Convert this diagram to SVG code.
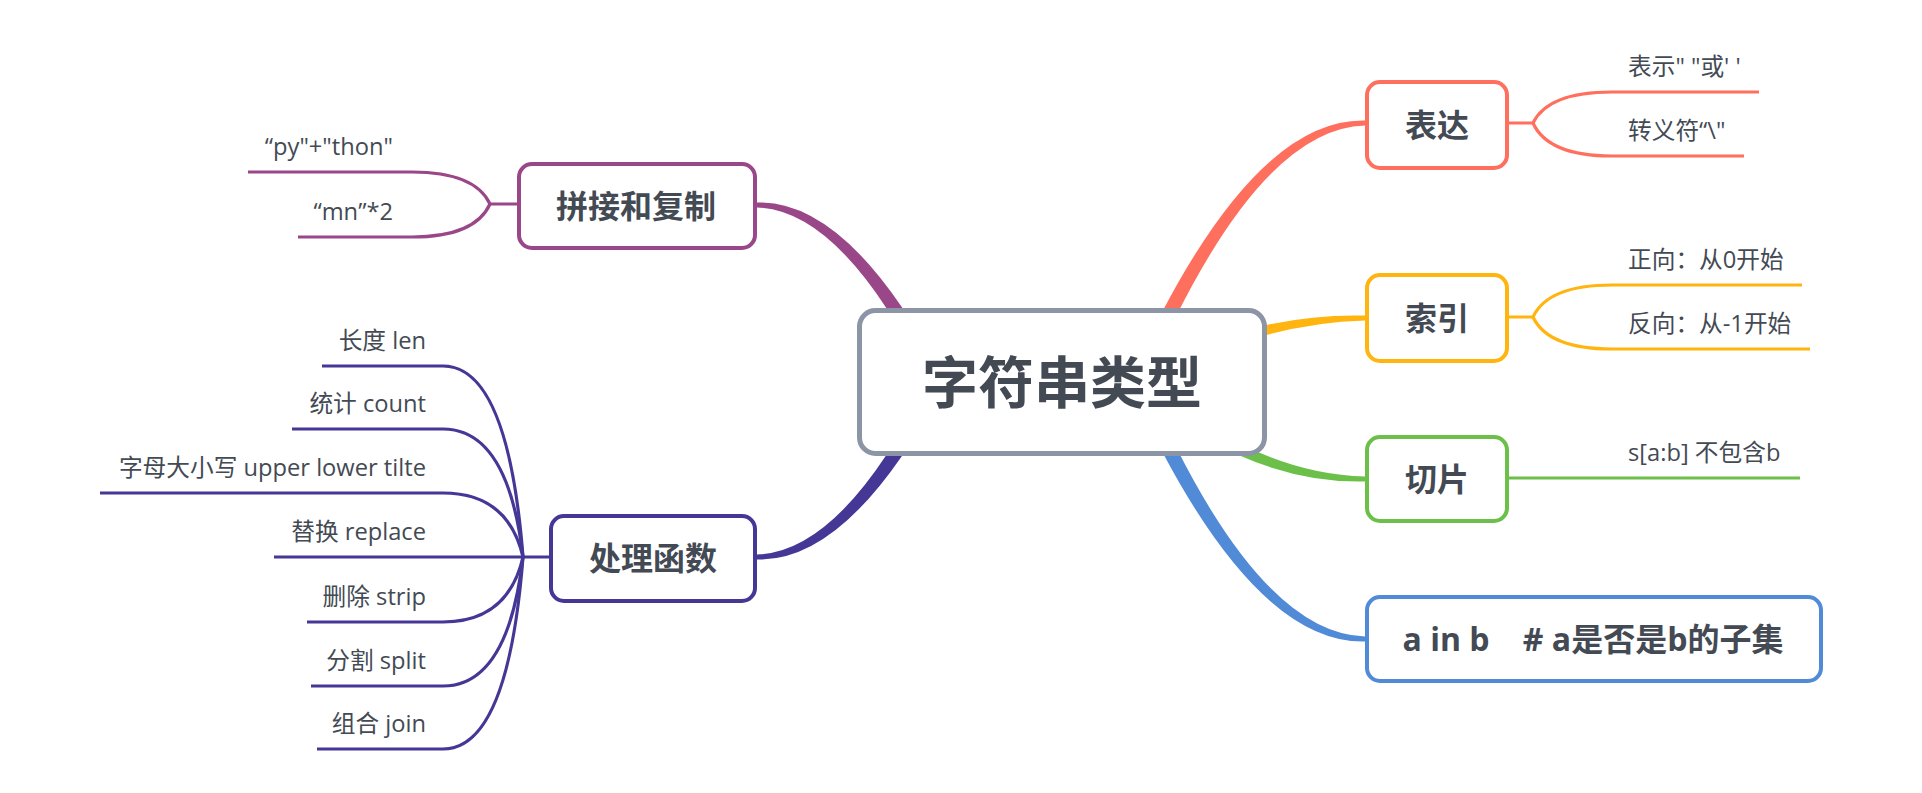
<svg xmlns="http://www.w3.org/2000/svg" width="1922" height="793" viewBox="0 0 1922 793">
<style>
.t{font-family:"Open Sans","Noto Sans CJK SC",sans-serif;fill:#434a54}
.sub{font-size:23.7px}
.main{font-size:32px;font-weight:bold;text-anchor:middle}
.root{font-size:56px;font-weight:bold;text-anchor:middle}
.box{fill:#ffffff;stroke-width:4}
.ln{fill:none;stroke-width:3.2}
.r{stroke:#ff6f5e}.y{stroke:#ffb40f}.g{stroke:#6cc04a}.b{stroke:#518ad6}.p{stroke:#9a4789}.i{stroke:#453796}
</style>
<rect width="1922" height="793" fill="#ffffff"/>
<g id="connectors">
  <path fill="#ff6f5e" d="M1144.3,385.2 Q1254.4,128.2 1365,125.5 L1365,120.5 Q1247.6,117.8 1129.7,378.8 Z"/>
  <path fill="#ffb40f" d="M1140.9,389 Q1252.4,323.3 1365,320.5 L1365,315.5 Q1249.6,312.7 1133.1,375 Z"/>
  <path fill="#6cc04a" d="M1131.8,388.1 Q1249.1,484.2 1365,481.5 L1365,476.5 Q1252.9,473.8 1142.2,375.9 Z"/>
  <path fill="#518ad6" d="M1129.7,385.2 Q1247.6,644.2 1365,641.5 L1365,636.5 Q1254.4,633.8 1144.3,378.8 Z"/>
  <path fill="#9a4789" d="M944.1,378.4 Q850.2,199.7 757,202.5 L757,207.5 Q843.8,210.3 929.9,385.6 Z"/>
  <path fill="#453796" d="M929.9,378.3 Q843.8,551.8 757,554.5 L757,559.5 Q850.2,562.2 944.1,385.7 Z"/>
  <path class="ln r" d="M1509,123 H1533 Q1548,92 1612,92 H1759"/>
  <path class="ln r" d="M1533,123 Q1548,156 1612,156 H1744"/>
  <path class="ln y" d="M1509,317 H1533 Q1548,285 1612,285 H1802"/>
  <path class="ln y" d="M1533,317 Q1548,349 1612,349 H1810"/>
  <path class="ln g" d="M1509,478 H1800"/>
  <path class="ln p" d="M517,204 H490 Q475,172 412,172 H248"/>
  <path class="ln p" d="M490,204 Q475,237 412,237 H298"/>
  <path class="ln i" d="M549,557 H523 Q508,366 443,366 H322"/>
  <path class="ln i" d="M523,557 Q508,429 443,429 H292"/>
  <path class="ln i" d="M523,557 Q508,493 443,493 H100"/>
  <path class="ln i" d="M523,557 H274"/>
  <path class="ln i" d="M523,557 Q508,622 443,622 H307"/>
  <path class="ln i" d="M523,557 Q508,686 443,686 H311"/>
  <path class="ln i" d="M523,557 Q508,749 443,749 H317"/>
</g>
<g id="root">
  <rect x="859.5" y="310.5" width="405" height="143" rx="16" fill="#ffffff" stroke="#8b95a6" stroke-width="5"/>
  <text class="t root" x="1062" y="403">字符串类型</text>
</g>
<g id="node-biaoda">
  <rect class="box r" x="1367" y="82" width="140" height="86" rx="13"/>
  <text class="t main" x="1437" y="137">表达</text>
</g>
<g id="leaf-biaoshi"><text class="t sub" x="1628" y="75">表示" "或' '</text></g>
<g id="leaf-zhuanyi"><text class="t sub" x="1628" y="139">转义符“\"</text></g>
<g id="node-suoyin">
  <rect class="box y" x="1367" y="275" width="140" height="86" rx="13"/>
  <text class="t main" x="1437" y="330">索引</text>
</g>
<g id="leaf-zhengxiang"><text class="t sub" x="1628" y="268">正向：从0开始</text></g>
<g id="leaf-fanxiang"><text class="t sub" x="1628" y="332">反向：从-1开始</text></g>
<g id="node-qiepian">
  <rect class="box g" x="1367" y="437" width="140" height="84" rx="13"/>
  <text class="t main" x="1437" y="491">切片</text>
</g>
<g id="leaf-slice"><text class="t sub" x="1628" y="461">s[a:b] 不包含b</text></g>
<g id="node-ainb">
  <rect class="box b" x="1367" y="597" width="454" height="84" rx="13"/>
  <text class="t main" x="1593" y="651" xml:space="preserve">a in b    # a是否是b的子集</text>
</g>
<g id="node-pinjie">
  <rect class="box p" x="519" y="164" width="236" height="84" rx="13"/>
  <text class="t main" x="636" y="218">拼接和复制</text>
</g>
<g id="leaf-python"><text class="t sub" x="393" y="155" text-anchor="end">“py"+"thon"</text></g>
<g id="leaf-mn"><text class="t sub" x="393" y="220" text-anchor="end">“mn”*2</text></g>
<g id="node-chuli">
  <rect class="box i" x="551" y="516" width="204" height="85" rx="13"/>
  <text class="t main" x="653" y="570">处理函数</text>
</g>
<g id="leaf-len"><text class="t sub" x="426" y="349" text-anchor="end">长度 len</text></g>
<g id="leaf-count"><text class="t sub" x="426" y="412" text-anchor="end">统计 count</text></g>
<g id="leaf-case"><text class="t sub" x="426" y="476" text-anchor="end">字母大小写 upper lower tilte</text></g>
<g id="leaf-replace"><text class="t sub" x="426" y="540" text-anchor="end">替换 replace</text></g>
<g id="leaf-strip"><text class="t sub" x="426" y="605" text-anchor="end">删除 strip</text></g>
<g id="leaf-split"><text class="t sub" x="426" y="669" text-anchor="end">分割 split</text></g>
<g id="leaf-join"><text class="t sub" x="426" y="732" text-anchor="end">组合 join</text></g>
</svg>
